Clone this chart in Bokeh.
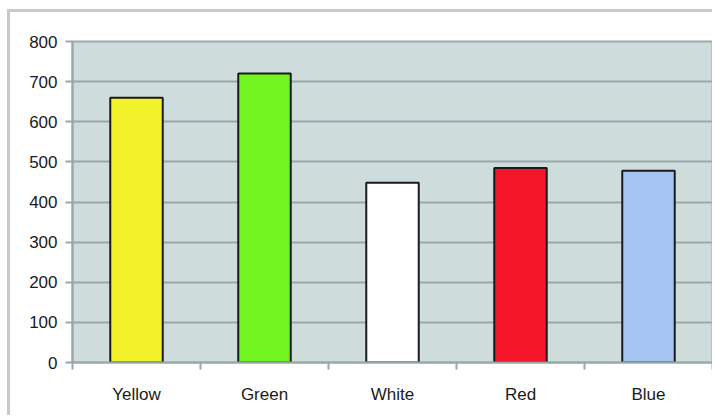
from bokeh.plotting import figure
from bokeh.models import FixedTicker, Range1d, ColumnDataSource
from bokeh.embed import file_html
from bokeh.resources import INLINE

categories = ["Yellow", "Green", "White", "Red", "Blue"]
values = [660, 720, 448, 485, 478]
colors = ["#f2f22a", "#72f520", "#ffffff", "#f5162a", "#a6c4f4"]
y_ticks = [0, 100, 200, 300, 400, 500, 600, 700, 800]

xs = list(range(len(categories)))
src = ColumnDataSource(dict(x=xs, top=values, color=colors, name=categories))

p = figure(width=705, height=406, output_backend="svg", toolbar_location=None,
           x_range=Range1d(-0.5, len(categories) - 0.5), y_range=Range1d(0, 800),
           min_border_left=62, min_border_right=3, min_border_top=29, min_border_bottom=56)
p.margin = (9, 0, 0, 7)
p.styles = {"border-top": "3px solid #c9c9c9", "border-left": "3px solid #c9c9c9"}

p.background_fill_color = "#cfdcdc"
p.border_fill_color = "white"
p.outline_line_color = "#9aabab"
p.outline_line_width = 2

p.vbar(x="x", top="top", width=0.41, bottom=0, fill_color="color",
       line_color="#1a1a1a", line_width=2, source=src)

p.xgrid.visible = False
p.ygrid.ticker = FixedTicker(ticks=y_ticks)
p.ygrid.grid_line_color = "#98a9a9"
p.ygrid.grid_line_width = 2

p.yaxis.ticker = FixedTicker(ticks=y_ticks)
p.yaxis.axis_line_color = "#98a9a9"
p.yaxis.axis_line_width = 2
p.yaxis.major_tick_line_color = "#98a9a9"
p.yaxis.major_tick_line_width = 2
p.yaxis.major_tick_out = 7
p.yaxis.major_tick_in = 0
p.yaxis.minor_tick_line_color = None
p.yaxis.major_label_standoff = 8
p.yaxis.major_label_text_font = "Liberation Sans"
p.yaxis.major_label_text_font_size = "17px"
p.yaxis.major_label_text_color = "#1a1a1a"

p.xaxis.ticker = FixedTicker(ticks=xs, minor_ticks=[i - 0.5 for i in range(len(categories) + 1)])
p.xaxis.major_label_overrides = {i: c for i, c in enumerate(categories)}
p.xaxis.axis_line_color = "#98a9a9"
p.xaxis.axis_line_width = 2
p.xaxis.major_tick_line_color = None
p.xaxis.minor_tick_line_color = "#98a9a9"
p.xaxis.minor_tick_line_width = 2
p.xaxis.minor_tick_out = 7
p.xaxis.minor_tick_in = 0
p.xaxis.major_label_standoff = 15
p.xaxis.major_label_text_font = "Liberation Sans"
p.xaxis.major_label_text_font_size = "17px"
p.xaxis.major_label_text_color = "#1a1a1a"

open("out.html", "w").write(file_html(p, INLINE))
